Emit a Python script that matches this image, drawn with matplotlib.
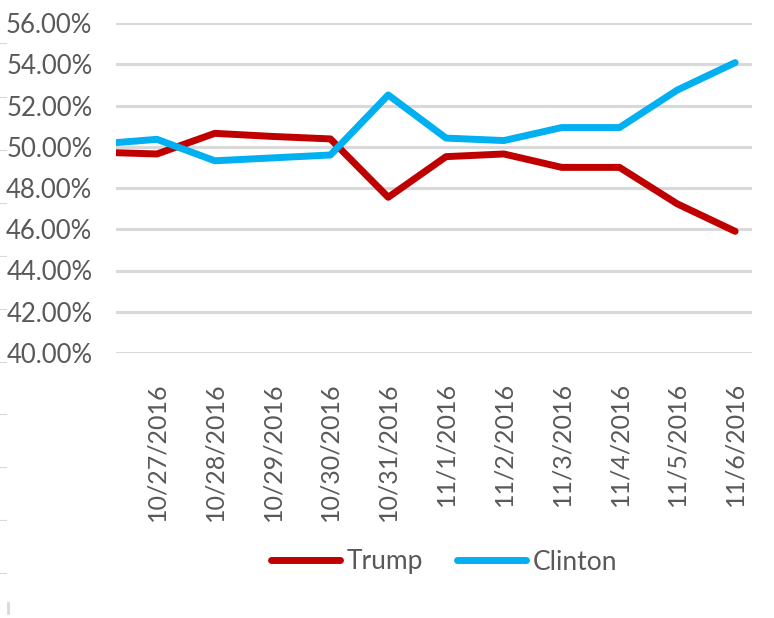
import matplotlib
matplotlib.use("Agg")
import matplotlib.pyplot as plt
from matplotlib.lines import Line2D
import pandas as pd

# ---- data ----
timestamps = ["2016-10-26 07:00", "2016-10-27 00:00", "2016-10-28 00:00", "2016-10-29 00:00",
              "2016-10-30 00:00", "2016-10-31 00:00", "2016-11-01 00:00", "2016-11-02 00:00",
              "2016-11-03 00:00", "2016-11-04 00:00", "2016-11-05 00:00", "2016-11-06 00:00"]
trump = [49.71, 49.65, 50.65, 50.50, 50.38, 47.55, 49.52, 49.65, 49.00, 49.00, 47.23, 45.90]
clinton = [50.20, 50.36, 49.32, 49.46, 49.60, 52.51, 50.42, 50.30, 50.93, 50.93, 52.75, 54.08]
tick_dates = ["2016-10-27", "2016-10-28", "2016-10-29", "2016-10-30", "2016-10-31",
              "2016-11-01", "2016-11-02", "2016-11-03", "2016-11-04", "2016-11-05", "2016-11-06"]
tick_labels = ["10/27/2016", "10/28/2016", "10/29/2016", "10/30/2016", "10/31/2016",
               "11/1/2016", "11/2/2016", "11/3/2016", "11/4/2016", "11/5/2016", "11/6/2016"]
y_ticks = [40, 42, 44, 46, 48, 50, 52, 54, 56]
x_range = ["2016-10-26 07:00", "2016-11-06 07:00"]

plt.rcParams['font.family'] = ['Lato', 'DejaVu Sans']
TXT = '#595959'

W, H = 774, 618
fig = plt.figure(figsize=(W / 100, H / 100), dpi=100)
ax = fig.add_axes([116 / W, 1 - 353 / H, (752 - 116) / W, (353 - 23) / H])

x = pd.to_datetime(timestamps, format='mixed')
ax.plot(x, trump, color='#C00000', lw=5, solid_joinstyle='round', solid_capstyle='round',
        label='Trump', zorder=3)
ax.plot(x, clinton, color='#00B0F0', lw=5, solid_joinstyle='round', solid_capstyle='round',
        label='Clinton', zorder=3)

ax.set_xlim(pd.Timestamp(x_range[0]), pd.Timestamp(x_range[1]))
ax.set_ylim(40, 56)
ax.set_yticks(y_ticks)
ax.set_yticklabels([f"{v:.2f}%" for v in y_ticks], fontsize=18.5, color=TXT)
ax.set_xticks(pd.to_datetime(tick_dates, format='mixed'))
ax.set_xticklabels(tick_labels, rotation=90, fontsize=18, color=TXT, va='top', ha='center')
ax.tick_params(axis='y', length=0, pad=17)
ax.tick_params(axis='x', length=0, pad=21)
ax.grid(axis='y', color='#D9D9D9', lw=2.2, zorder=0)
ax.set_axisbelow(True)
for s in ax.spines.values():
    s.set_visible(False)

handles = [Line2D([], [], color='#C00000', lw=5, solid_capstyle='round'),
           Line2D([], [], color='#00B0F0', lw=5, solid_capstyle='round')]
fig.legend(handles, ['Trump', 'Clinton'], loc='center', bbox_to_anchor=(444 / W, 1 - 562 / H),
           ncol=2, frameon=False, fontsize=19, labelcolor=TXT, handlelength=2.6,
           handletextpad=0.25, columnspacing=1.3)

# faint artifact marks on the left edge
for yy in [43, 97, 150, 203, 256, 309, 362, 414, 467, 520, 573]:
    fig.add_artist(Line2D([0, 6 / W], [1 - yy / H, 1 - yy / H], color='#D9D9D9', lw=0.8))
fig.add_artist(Line2D([8 / W, 8 / W], [1 - 603 / H, 1 - 613 / H], color='#D9D9D9', lw=2))

fig.savefig('out.png', dpi=100)
